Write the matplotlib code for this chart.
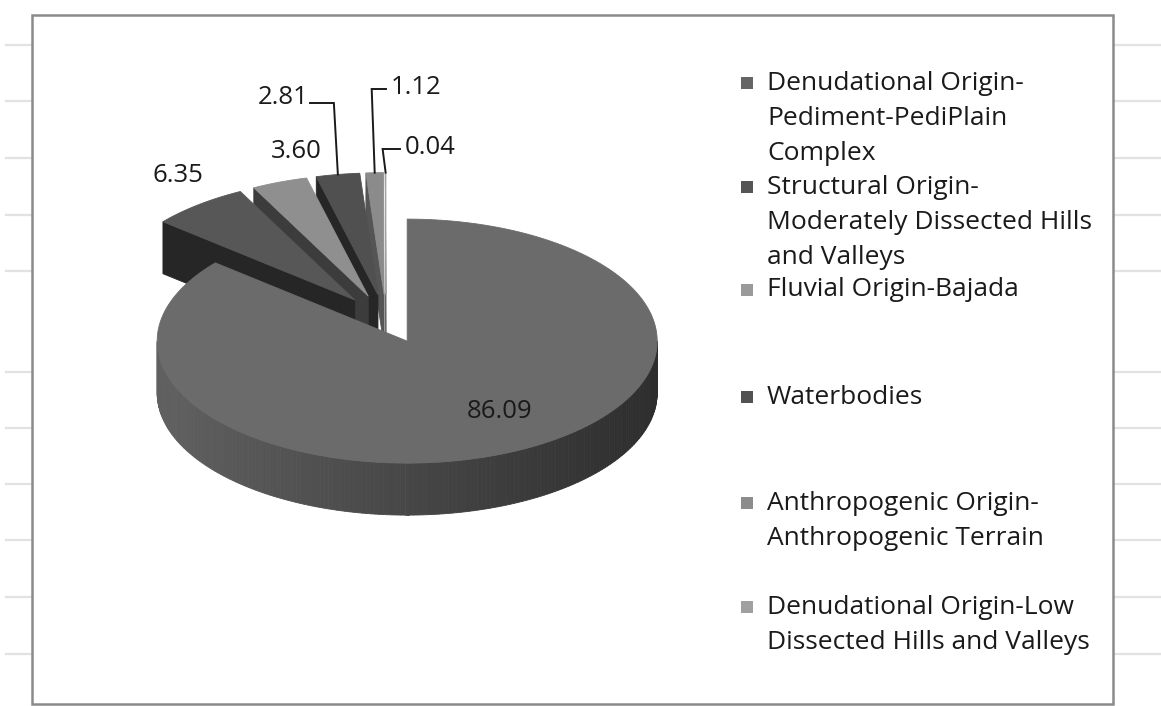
import numpy as np
import matplotlib
matplotlib.use("Agg")
import matplotlib.pyplot as plt
from matplotlib.patches import Polygon, Rectangle

# ---- data -------------------------------------------------------------
categories = [
    "Denudational Origin-\nPediment-PediPlain\nComplex",
    "Structural Origin-\nModerately Dissected Hills\nand Valleys",
    "Fluvial Origin-Bajada",
    "Waterbodies",
    "Anthropogenic Origin-\nAnthropogenic Terrain",
    "Denudational Origin-Low\nDissected Hills and Valleys",
]
values = [86.09, 6.35, 3.60, 2.81, 1.12, 0.04]

top_colors = ["#6b6b6b", "#575757", "#8f8f8f", "#505050", "#8b8b8b", "#a0a0a0"]
side_colors = ["#4c4c4c", "#262626", "#3c3c3c", "#262626", "#555555", "#666666"]
legend_colors = ["#656565", "#555555", "#9a9a9a", "#525252", "#8c8c8c", "#a0a0a0"]

# label anchor (pixel) positions and whether a leader line is drawn
label_pos = [(500, 412), (178, 176), (296, 152), (283, 97), (416, 88), (430, 148)]
label_leader = [False, False, False, True, True, True]

# ---- pie geometry (pixel space) -------------------------------------
W, H = 1161, 706
CX, CY = 386, 319          # pie centre
RX, RY = 250, 122          # projected radii of the top face
DEPTH = 52                 # thickness of the disc
EXPLODE = 0.20             # explosion as a fraction of the radius

plt.rcParams["font.family"] = ["Open Sans", "DejaVu Sans"]

fig = plt.figure(figsize=(W / 100, H / 100), dpi=100)
ax = fig.add_axes([0, 0, 1, 1])
ax.set_xlim(0, W)
ax.set_ylim(H, 0)
ax.axis("off")

# faint spreadsheet rules outside the chart frame
for yy in [45, 101, 158, 215, 271, 372, 428, 484, 540, 597, 654]:
    ax.plot([6, 31], [yy, yy], color="#e2e2e2", lw=1.6, zorder=0)
    ax.plot([1114, 1161], [yy, yy], color="#e2e2e2", lw=1.6, zorder=0)

# chart frame
ax.add_patch(Rectangle((32, 15), 1113 - 32, 704 - 15, fill=False,
                       edgecolor="#8a8a8a", lw=1.8, zorder=1))

total = float(sum(values))
bounds = np.concatenate([[0.0], np.cumsum(values)]) / total * 360.0


def pt(theta, r, ox, oy, z=0.0):
    t = np.radians(theta)
    return (ox + RX * r * np.sin(t), oy - RY * r * np.cos(t) + z)


def shade(hex_color, k):
    c = np.array(matplotlib.colors.to_rgb(hex_color)) * k
    return tuple(np.clip(c, 0, 1))


def slice_origin(i):
    mid = 0.5 * (bounds[i] + bounds[i + 1])
    return pt(mid, EXPLODE, CX, CY)


def draw_slice(i, z):
    t1, t2 = bounds[i], bounds[i + 1]
    ox, oy = slice_origin(i)
    apex = (ox, oy)
    apex_b = (ox, oy + DEPTH)
    # radial faces that face the viewer
    if np.sin(np.radians(t1)) < -1e-6:
        r1, r1b = pt(t1, 1, ox, oy), pt(t1, 1, ox, oy, DEPTH)
        ax.add_patch(Polygon([apex, r1, r1b, apex_b], closed=True,
                             facecolor=side_colors[i], edgecolor=side_colors[i],
                             lw=0.6, zorder=z))
    if np.sin(np.radians(t2)) > 1e-6:
        r2, r2b = pt(t2, 1, ox, oy), pt(t2, 1, ox, oy, DEPTH)
        ax.add_patch(Polygon([apex, r2, r2b, apex_b], closed=True,
                             facecolor=side_colors[i], edgecolor=side_colors[i],
                             lw=0.6, zorder=z))
    # outer rim, front half only
    lo, hi = max(t1, 90.0), min(t2, 270.0)
    if hi > lo:
        steps = np.linspace(lo, hi, int(hi - lo) + 2)
        base = top_colors[i]
        for a0, a1 in zip(steps[:-1], steps[1:]):
            am = np.radians(0.5 * (a0 + a1))
            k = 0.66 - 0.24 * np.sin(am)
            col = shade(base, k)
            quad = [pt(a0, 1, ox, oy), pt(a1, 1, ox, oy),
                    pt(a1, 1, ox, oy, DEPTH), pt(a0, 1, ox, oy, DEPTH)]
            ax.add_patch(Polygon(quad, closed=True, facecolor=col,
                                 edgecolor=col, lw=0.6, zorder=z))
    # top face
    arc = np.linspace(t1, t2, max(int((t2 - t1) * 2), 2))
    poly = [apex] + [pt(a, 1, ox, oy) for a in arc]
    ax.add_patch(Polygon(poly, closed=True, facecolor=top_colors[i],
                         edgecolor=top_colors[i], lw=0.6, zorder=z + 0.5))


# paint from the back (near 12 o'clock) towards the viewer
order = list(range(len(values) - 1, 0, -1)) + [0]
for n, i in enumerate(order):
    draw_slice(i, 2 + n)

# ---- data labels ------------------------------------------------------
lab_font = dict(fontsize=18.5, color="#1a1a1a", zorder=30)
for i, v in enumerate(values):
    lx, ly = label_pos[i]
    txt = f"{v:.2f}"
    ax.text(lx, ly, txt, ha="center", va="center", **lab_font)
    if label_leader[i]:
        t1, t2 = bounds[i], bounds[i + 1]
        ox, oy = slice_origin(i)
        ex, ey = pt(0.5 * (t1 + t2), 1, ox, oy)
        if lx < ex:      # label on the left: leader leaves the right side
            sx = lx + 27
            path = [(sx, ly + 6), (ex - 4, ly + 6), (ex, ey)]
        else:            # label on the right: leader leaves the left side
            sx = lx - 30
            kx = ex - 3
            path = [(sx, ly + 1), (kx, ly + 1), (ex, ey)]
        xs, ys = zip(*path)
        ax.plot(xs, ys, color="#1a1a1a", lw=1.4, zorder=29,
                solid_joinstyle="miter")

# ---- legend -----------------------------------------------------------
leg_first_y = [83, 187, 290, 397, 503, 607]
line_gap = 35.5
for i, name in enumerate(categories):
    y0 = leg_first_y[i]
    ax.add_patch(Rectangle((741, y0 - 6), 12, 12, facecolor=legend_colors[i],
                           edgecolor="none", zorder=30))
    for k, line in enumerate(name.split("\n")):
        ax.text(767, y0 + k * line_gap, line, ha="left", va="center",
                fontsize=19, color="#1a1a1a", zorder=30)

fig.savefig("out.png", dpi=100, facecolor="white")
